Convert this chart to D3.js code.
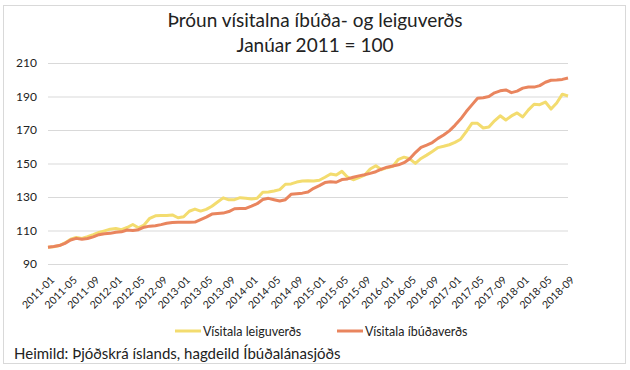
<!DOCTYPE html>
<html>
<head>
<meta charset="utf-8">
<script src="https://cdn.jsdelivr.net/npm/d3@7"></script>
<style>
  body { margin: 0; background: #fff; }
  text { font-family: Lato, "Open Sans", sans-serif; fill: #222; }
</style>
</head>
<body>
<script>
const months = [
  '2011-01','2011-02','2011-03','2011-04','2011-05','2011-06','2011-07','2011-08','2011-09','2011-10','2011-11','2011-12',
  '2012-01','2012-02','2012-03','2012-04','2012-05','2012-06','2012-07','2012-08','2012-09','2012-10','2012-11','2012-12',
  '2013-01','2013-02','2013-03','2013-04','2013-05','2013-06','2013-07','2013-08','2013-09','2013-10','2013-11','2013-12',
  '2014-01','2014-02','2014-03','2014-04','2014-05','2014-06','2014-07','2014-08','2014-09','2014-10','2014-11','2014-12',
  '2015-01','2015-02','2015-03','2015-04','2015-05','2015-06','2015-07','2015-08','2015-09','2015-10','2015-11','2015-12',
  '2016-01','2016-02','2016-03','2016-04','2016-05','2016-06','2016-07','2016-08','2016-09','2016-10','2016-11','2016-12',
  '2017-01','2017-02','2017-03','2017-04','2017-05','2017-06','2017-07','2017-08','2017-09','2017-10','2017-11','2017-12',
  '2018-01','2018-02','2018-03','2018-04','2018-05','2018-06','2018-07','2018-08','2018-09'
];

// Vísitala leiguverðs
const rent = [
  100, 100.3, 101, 102.6, 104.8, 105.8, 105.3, 106.3, 107.5, 108.8, 109.8, 110.8,
  111.2, 110.5, 111.8, 113.6, 111.6, 113.3, 117.3, 118.8, 118.9, 118.9, 119.3, 117.6,
  118.2, 121.5, 122.8, 121.6, 122.6, 124.5, 127, 129.5, 128.3, 128.4, 129.6, 129.3,
  128.8, 129.2, 132.8, 133, 133.6, 134.4, 137.6, 137.8, 138.9, 139.5, 139.7, 139.5,
  140, 141.8, 143.7, 143.1, 145.3, 141.8, 140.3, 141.6, 143, 146.7, 148.7, 146.3,
  147.5, 148.3, 152.5, 153.8, 152.8, 150.1, 153, 155, 157.2, 159.5, 160.3, 161.2,
  162.6, 164.5, 169, 174, 174, 171.2, 171.8, 175.5, 178.5, 176, 178.4, 180.2,
  177.8, 182, 185.4, 185.1, 186.7, 182.5, 186.1, 191.4, 190.3
];

// Vísitala íbúðaverðs
const housing = [
  100, 100.4, 101, 102.3, 104.3, 105.3, 104.8, 105.2, 106.2, 107.5, 108, 108.3,
  109, 109.2, 110.3, 110, 110.5, 112, 112.6, 112.8, 113.5, 114.3, 114.8, 114.9,
  114.9, 114.9, 115, 116.5, 118, 119.8, 120.2, 120.4, 121.3, 123, 123.2, 123.2,
  124.5, 126, 128.5, 129.2, 128.4, 127.6, 128.4, 131.6, 132, 132.3, 133, 135.2,
  136.8, 138.6, 139.1, 138.8, 140.4, 140.8, 141.8, 142.6, 143.3, 144.1, 145.1, 146.6,
  147.8, 148.5, 149.2, 150.5, 152.8, 156.5, 159.6, 161, 162.5, 165, 167, 169.5,
  172.8, 176.5, 181, 185, 189, 189.3, 190, 192.2, 193.4, 193.9, 192.3, 193.2,
  195, 195.7, 195.6, 196.5, 198.5, 199.7, 199.9, 200.2, 201
];

const yTicks = [90, 110, 130, 150, 170, 190, 210];
const xTickLabels = months.filter((m, i) => i % 4 === 0);

const seriesNames = ['Vísitala leiguverðs', 'Vísitala íbúðaverðs'];
const colors = ['#f3dc6f', '#e9855e'];

const W = 630, H = 370;
const svg = d3.select('body').append('svg')
  .attr('width', W)
  .attr('height', H);

svg.append('rect')
  .attr('x', 3.5).attr('y', 5.5)
  .attr('width', 622).attr('height', 358)
  .attr('fill', '#fff')
  .attr('stroke', '#d9d9d9');

const x = d3.scalePoint().domain(months).range([48, 568]);
const y = d3.scaleLinear().domain([90, 210]).range([264, 63]);

// title
svg.append('text')
  .attr('x', 315).attr('y', 27)
  .attr('text-anchor', 'middle')
  .style('font-size', '19px')
  .text('Þróun vísitalna íbúða- og leiguverðs');
svg.append('text')
  .attr('x', 315).attr('y', 52)
  .attr('text-anchor', 'middle')
  .style('font-size', '19px')
  .text('Janúar 2011 = 100');

// gridlines + y labels
svg.append('g')
  .attr('transform', 'translate(48,0)')
  .call(d3.axisLeft(y).tickValues(yTicks).tickSize(-520).tickPadding(11))
  .call(g => g.select('.domain').remove())
  .call(g => g.selectAll('.tick line').attr('stroke', '#d9d9d9'))
  .call(g => g.selectAll('.tick text').style('font-size', '12px').attr('fill', '#222'));

// x labels
svg.append('g')
  .attr('transform', 'translate(0,264)')
  .call(d3.axisBottom(x).tickValues(xTickLabels).tickSize(0).tickPadding(0))
  .call(g => g.select('.domain').remove())
  .call(g => g.selectAll('.tick text')
    .style('font-size', '10.5px')
    .attr('fill', '#222')
    .attr('text-anchor', 'end')
    .attr('transform', 'translate(4,14) rotate(-45)')
    .attr('dy', '0.35em'));

const line = d3.line()
  .x((d, i) => x(months[i]))
  .y(d => y(d));

[rent, housing].forEach((s, k) => {
  svg.append('path')
    .datum(s)
    .attr('fill', 'none')
    .attr('stroke', colors[k])
    .attr('stroke-width', 3)
    .attr('stroke-linejoin', 'round')
    .attr('d', line);
});

// legend
const legendX = [175, 337];
seriesNames.forEach((name, k) => {
  svg.append('line')
    .attr('x1', legendX[k]).attr('x2', legendX[k] + 26)
    .attr('y1', 331).attr('y2', 331)
    .attr('stroke', colors[k])
    .attr('stroke-width', 3);
  svg.append('text')
    .attr('x', legendX[k] + 28).attr('y', 335.5)
    .style('font-size', '12.5px')
    .text(name);
});

svg.append('text')
  .attr('x', 14).attr('y', 359)
  .style('font-size', '15px')
  .text('Heimild: Þjóðskrá íslands, hagdeild Íbúðalánasjóðs');
</script>
</body>
</html>
